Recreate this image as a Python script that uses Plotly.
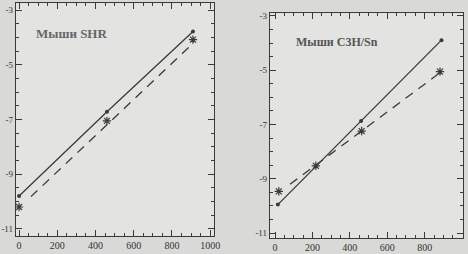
import plotly.graph_objects as go

# ---- data ----
shr_x = [0, 460, 910]
shr_solid_y = [-9.8, -6.72, -3.78]
shr_star_y = [-10.2, -7.05, -4.08]
shr_dash_x = [62, 905]
shr_dash_y = [-9.82, -4.25]

c3h_x = [15, 460, 890]
c3h_solid_y = [-9.95, -6.87, -3.89]
c3h_star_x = [20, 218, 463, 882]
c3h_star_y = [-9.46, -8.52, -7.24, -5.05]
c3h_dash_x = [80, 880]
c3h_dash_y = [-9.2, -5.1]

x_ticks = [0, 200, 400, 600, 800, 1000]
y_ticks = [-3, -5, -7, -9, -11]
y_ticklabels = ["-3", "-5", "-7", "-9", "-11"]
titles = ["Мыши SHR", "Мыши C3H/Sn"]

W, H = 468, 254
line_col = "#3a3a3a"
font = dict(family="Liberation Serif, DejaVu Serif, serif", size=10, color="#333333")
yfont = dict(family="Liberation Serif, DejaVu Serif, serif", size=9, color="#333333")

fig = go.Figure()

def add_panel(xa, ya, sx, sy, stx, sty, dx, dy):
    fig.add_trace(go.Scatter(x=sx, y=sy, xaxis=xa, yaxis=ya, mode="lines+markers",
                             line=dict(color=line_col, width=1.3),
                             marker=dict(symbol="circle", size=4, color=line_col),
                             showlegend=False))
    fig.add_trace(go.Scatter(x=dx, y=dy, xaxis=xa, yaxis=ya, mode="lines",
                             line=dict(color=line_col, width=1.3, dash="9px,7px"),
                             showlegend=False))
    fig.add_trace(go.Scatter(x=stx, y=sty, xaxis=xa, yaxis=ya, mode="markers",
                             marker=dict(symbol="asterisk-open", size=7, color=line_col,
                                         line=dict(color=line_col, width=1.2)),
                             showlegend=False))

add_panel("x", "y", shr_x, shr_solid_y, shr_x, shr_star_y, shr_dash_x, shr_dash_y)
add_panel("x2", "y2", c3h_x, c3h_solid_y, c3h_star_x, c3h_star_y, c3h_dash_x, c3h_dash_y)

def xaxis(domain, rng, anchor):
    return dict(domain=domain, range=rng, anchor=anchor, tickmode="array", tickvals=x_ticks,
                ticks="inside", ticklen=6, tickwidth=1.3, tickcolor=line_col, showline=True,
                linecolor=line_col, linewidth=1.3, mirror="allticks", showgrid=False,
                zeroline=False, tickfont=font,
                minor=dict(ticks="inside", ticklen=3, tickwidth=1.2, tickmode="linear",
                           dtick=50, tick0=0, tickcolor=line_col, showgrid=False))

def yaxis(domain, rng, anchor):
    return dict(domain=domain, range=rng, anchor=anchor, tickmode="array", tickvals=y_ticks,
                ticktext=y_ticklabels, ticks="inside", ticklen=6, tickwidth=1.3, tickcolor=line_col,
                showline=True, linecolor=line_col, linewidth=1.3, mirror="allticks",
                showgrid=False, zeroline=False, tickfont=yfont, ticklabelstandoff=0,
                minor=dict(ticks="inside", ticklen=3, tickwidth=1.2, tickmode="linear",
                           dtick=0.5, tick0=-11, tickcolor=line_col, showgrid=False))

fig.update_layout(
    template="none",
    width=W, height=H, margin=dict(l=0, r=0, t=0, b=0),
    paper_bgcolor="#d9d9d7", plot_bgcolor="#e3e3e1",
    xaxis=xaxis([16 / W, 214 / W], [-16, 1020], "y"),
    yaxis=yaxis([1 - 236 / H, 1 - 3 / H], [-11.26, -2.74], "x"),
    xaxis2=xaxis([270 / W, 463 / W], [-27, 1005], "y2"),
    yaxis2=yaxis([1 - 238 / H, 1 - 13 / H], [-11.18, -2.89], "x2"),
    annotations=[
        dict(text="<b>" + titles[0] + "</b>", xref="x", yref="y", x=80, y=-3.84,
             xanchor="left", showarrow=False,
             font=dict(family="Liberation Serif, DejaVu Serif, serif", size=13, color="#666666")),
        dict(text="<b>" + titles[1] + "</b>", xref="x2", yref="y2", x=100, y=-3.96,
             xanchor="left", showarrow=False,
             font=dict(family="Liberation Serif, DejaVu Serif, serif", size=12, color="#555555")),
    ],
)

fig.write_html("out.html")
